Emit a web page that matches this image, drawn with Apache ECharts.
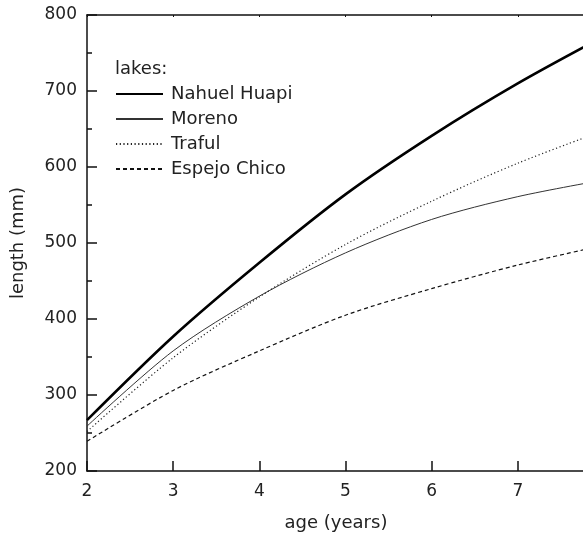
<!DOCTYPE html>
<html>
<head>
<meta charset="utf-8">
<script src="https://cdn.jsdelivr.net/npm/echarts@6/dist/echarts.min.js"></script>
<style>
html,body{margin:0;padding:0;background:#fff;}
#chart{width:583px;height:534px;}
</style>
</head>
<body>
<div id="chart"></div>
<script>
// ages read at whole years, lengths in mm
var ages = [2, 3, 4, 5, 6, 7, 8];
var nahuelHuapi = [267, 377, 474, 564, 641, 710, 772];
var moreno      = [259, 358, 430, 487, 531, 561, 583];
var traful      = [252, 349, 429, 498, 555, 605, 648];
var espejoChico = [239, 306, 358, 405, 440, 471, 497];
var xTicks = [2, 3, 4, 5, 6, 7];
var yTicks = [200, 300, 400, 500, 600, 700, 800];

function pairs(vals) {
    var out = [];
    for (var i = 0; i < ages.length; i++) out.push([ages[i], vals[i]]);
    return out;
}

var font = 'DejaVu Sans, sans-serif';
var myChart = echarts.init(document.getElementById('chart'));

// the figure is cut at the right, the x axis runs a bit past 7.7
var xMax = 7.78;

var option = {
    animation: false,
    backgroundColor: '#fff',
    textStyle: {fontFamily: font, color: '#222'},
    title: {
        text: 'lakes:',
        left: 110,
        top: 55,
        textStyle: {fontFamily: font, fontSize: 18, fontWeight: 'normal', color: '#222'}
    },
    legend: {
        orient: 'vertical',
        left: 110,
        top: 80,
        itemWidth: 47,
        itemHeight: 14,
        itemGap: 7,
        itemStyle: {opacity: 0},
        textStyle: {fontFamily: font, fontSize: 18, color: '#222', padding: [0, 0, 0, 3]},
        data: ['Nahuel Huapi', 'Moreno', 'Traful', 'Espejo Chico']
    },
    grid: {left: 87, top: 15, right: -2, bottom: 63, outerBoundsMode: 'none'},
    xAxis: [{
        type: 'value',
        min: 2, max: xMax, interval: 1,
        name: 'age (years)',
        nameLocation: 'middle',
        nameGap: 43,
        nameTextStyle: {fontFamily: font, fontSize: 18, color: '#222'},
        axisLine: {lineStyle: {color: '#111', width: 1.5}},
        axisTick: {inside: true, length: 10, lineStyle: {color: '#111', width: 1.5}},
        axisLabel: {
            fontFamily: font, fontSize: 17, color: '#222', margin: 12,
            formatter: function (v) { return xTicks.indexOf(v) >= 0 ? String(v) : ''; }
        },
        splitLine: {show: false}
    }, {
        type: 'value',
        position: 'top',
        min: 2, max: xMax, interval: 1,
        axisLine: {show: true, lineStyle: {color: '#111', width: 1.5}},
        axisTick: {inside: true, length: 2, lineStyle: {color: '#111'}},
        axisLabel: {show: false},
        splitLine: {show: false}
    }],
    yAxis: [{
        type: 'value',
        min: 200, max: 800, interval: 100,
        name: 'length (mm)',
        nameLocation: 'middle',
        nameGap: 60,
        nameTextStyle: {fontFamily: font, fontSize: 18, color: '#222'},
        axisLine: {show: true, lineStyle: {color: '#111', width: 1.5}},
        axisTick: {inside: true, length: 10, lineStyle: {color: '#111', width: 1.5}},
        minorTick: {show: true, splitNumber: 2, length: 5, lineStyle: {color: '#111', width: 1.5}},
        axisLabel: {
            fontFamily: font, fontSize: 17, color: '#222', margin: 10,
            formatter: function (v) { return yTicks.indexOf(v) >= 0 ? String(v) : ''; }
        },
        splitLine: {show: false}
    }],
    series: [
        {
            name: 'Nahuel Huapi', type: 'line', smooth: 0.3, symbol: 'none',
            lineStyle: {color: '#000', width: 2.6, type: 'solid'},
            itemStyle: {color: '#000'},
            data: pairs(nahuelHuapi)
        },
        {
            name: 'Moreno', type: 'line', smooth: 0.3, symbol: 'none',
            lineStyle: {color: '#333', width: 1, type: 'solid'},
            itemStyle: {color: '#333'},
            data: pairs(moreno)
        },
        {
            name: 'Traful', type: 'line', smooth: 0.3, symbol: 'none',
            lineStyle: {color: '#222', width: 1.2, type: [1.2, 2.5]},
            itemStyle: {color: '#222'},
            data: pairs(traful)
        },
        {
            name: 'Espejo Chico', type: 'line', smooth: 0.3, symbol: 'none',
            lineStyle: {color: '#111', width: 1.2, type: [4, 3]},
            itemStyle: {color: '#111'},
            data: pairs(espejoChico)
        }
    ]
};

myChart.setOption(option);
</script>
</body>
</html>
